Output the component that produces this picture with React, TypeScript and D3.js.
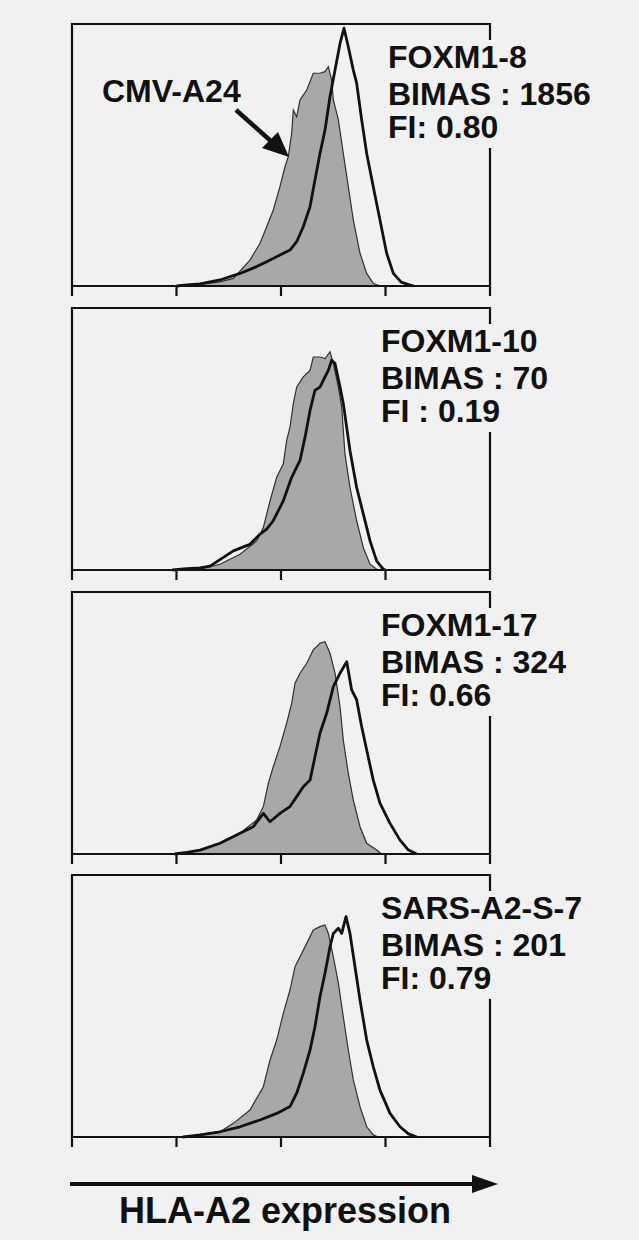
import React from "react";
import * as d3 from "d3";

// x values are log10 fluorescence (decades), y values are % of panel height
const peptides = ["FOXM1-8", "FOXM1-10", "FOXM1-17", "SARS-A2-S-7"];
const bimasLabels = ["BIMAS : 1856", "BIMAS : 70", "BIMAS : 324", "BIMAS : 201"];
const fiLabels = ["FI: 0.80", "FI : 0.19", "FI: 0.66", "FI: 0.79"];
const decadeTicks = [0, 1, 2, 3, 4];
const controlLabel = "CMV-A24";
const axisLabel = "HLA-A2 expression";

type P = [number, number];

// control (CMV-A24) histograms, grey filled
const control1: P[] = [[1.0, 0], [1.1, 0.4], [1.25, 0.7], [1.416, 1.6], [1.544, 2.9], [1.703, 9.9], [1.799, 16.3], [1.863, 22.6], [1.926, 29.0], [1.99, 37.9], [2.038, 45.5], [2.07, 49.4], [2.102, 58.3], [2.118, 67.2], [2.15, 64.6], [2.182, 71.0], [2.246, 74.8], [2.309, 81.2], [2.373, 81.2], [2.421, 81.8], [2.453, 83.7], [2.485, 78.6], [2.501, 71.0], [2.549, 63.4], [2.596, 50.6], [2.644, 37.9], [2.692, 25.2], [2.756, 12.5], [2.82, 4.8], [2.883, 1.0], [2.947, 0]];
const control2: P[] = [[0.96, 0], [1.1, 0.2], [1.225, 0.3], [1.416, 2.2], [1.608, 6.0], [1.767, 11.1], [1.831, 16.2], [1.895, 26.4], [1.959, 35.4], [2.022, 40.5], [2.054, 49.4], [2.086, 54.5], [2.118, 63.5], [2.15, 69.8], [2.213, 73.7], [2.278, 76.2], [2.309, 81.3], [2.373, 81.3], [2.421, 80.7], [2.469, 83.3], [2.501, 78.8], [2.549, 69.8], [2.581, 62.2], [2.612, 44.3], [2.66, 31.5], [2.724, 18.8], [2.788, 8.5], [2.852, 2.2], [2.916, 0.3], [2.95, 0]];
const control3: P[] = [[0.98, 0], [1.1, 0.6], [1.225, 1.5], [1.416, 4.1], [1.608, 7.9], [1.767, 13.0], [1.831, 18.1], [1.879, 27.0], [1.926, 33.3], [1.99, 41.0], [2.054, 49.9], [2.102, 57.5], [2.134, 65.2], [2.182, 69.0], [2.246, 72.8], [2.309, 77.9], [2.373, 80.4], [2.421, 81.0], [2.469, 76.6], [2.517, 69.0], [2.565, 56.2], [2.596, 43.5], [2.644, 30.8], [2.692, 20.6], [2.756, 10.4], [2.82, 4.1], [2.916, 1.5], [2.963, 0]];
const control4: P[] = [[1.06, 0], [1.15, 0.4], [1.225, 0.8], [1.416, 2.0], [1.544, 5.2], [1.703, 10.3], [1.831, 19.2], [1.895, 29.4], [1.959, 37.0], [2.022, 47.2], [2.086, 56.1], [2.134, 65.0], [2.182, 68.8], [2.246, 73.9], [2.309, 79.0], [2.373, 80.3], [2.421, 80.9], [2.453, 77.7], [2.501, 68.8], [2.549, 58.7], [2.596, 45.9], [2.644, 33.2], [2.692, 21.8], [2.756, 11.6], [2.82, 3.9], [2.883, 0.8], [2.931, 0]];

// test peptide histograms, black line
const peptide1: P[] = [[1.0, 0], [1.1, 0.4], [1.225, 0.8], [1.416, 2.3], [1.608, 4.8], [1.767, 7.4], [1.863, 9.3], [1.99, 11.8], [2.086, 13.7], [2.15, 16.9], [2.213, 22.6], [2.278, 30.3], [2.325, 40.5], [2.373, 50.6], [2.421, 59.5], [2.469, 72.3], [2.517, 82.4], [2.565, 92.6], [2.603, 98.4], [2.644, 91.3], [2.692, 82.4], [2.724, 77.4], [2.772, 63.4], [2.82, 50.6], [2.883, 37.9], [2.947, 25.2], [3.011, 12.5], [3.075, 4.8], [3.15, 1.5], [3.22, 0.5], [3.27, 0]];
const peptide2: P[] = [[0.96, 0], [1.1, 0.5], [1.225, 0.8], [1.321, 1.5], [1.544, 7.3], [1.703, 9.8], [1.799, 13.7], [1.863, 15.6], [1.926, 18.8], [2.022, 26.4], [2.102, 35.4], [2.182, 41.8], [2.23, 50.7], [2.278, 60.9], [2.325, 68.6], [2.373, 69.8], [2.421, 73.7], [2.453, 76.2], [2.485, 80.1], [2.517, 78.8], [2.565, 69.8], [2.596, 63.5], [2.66, 45.6], [2.724, 31.5], [2.788, 21.3], [2.852, 11.1], [2.916, 3.4], [2.979, 0.3], [3.0, 0]];
const peptide3: P[] = [[0.98, 0], [1.1, 0.6], [1.225, 1.5], [1.416, 4.1], [1.608, 7.9], [1.735, 10.4], [1.831, 15.5], [1.895, 12.3], [1.99, 15.5], [2.086, 18.1], [2.15, 21.9], [2.213, 25.7], [2.278, 28.2], [2.325, 37.1], [2.373, 46.1], [2.437, 53.7], [2.501, 63.9], [2.565, 69.0], [2.629, 73.4], [2.676, 62.6], [2.724, 58.8], [2.772, 48.6], [2.82, 39.7], [2.883, 28.2], [2.947, 19.4], [3.043, 11.7], [3.139, 5.3], [3.22, 1.5], [3.3, 0]];
const peptide4: P[] = [[1.06, 0], [1.15, 0.4], [1.225, 0.8], [1.416, 2.0], [1.608, 3.9], [1.799, 6.5], [1.959, 9.0], [2.086, 11.6], [2.15, 16.7], [2.213, 24.3], [2.278, 33.2], [2.325, 42.1], [2.373, 53.5], [2.421, 62.5], [2.469, 72.6], [2.501, 77.7], [2.549, 79.7], [2.581, 77.7], [2.622, 84.1], [2.66, 77.7], [2.708, 65.0], [2.756, 52.3], [2.82, 37.0], [2.883, 26.8], [2.947, 17.9], [3.043, 9.0], [3.139, 3.9], [3.22, 1.2], [3.3, 0]];

const controls = [control1, control2, control3, control4];
const peptideSeries = [peptide1, peptide2, peptide3, peptide4];

const W = 639;
const H = 1240;
const BG = "#f1f1f1";
const INK = "#111111";
const FONT = "'Liberation Sans', Arial, Helvetica, sans-serif";

const left = 72;
const right = 490;
const panelH = 262;
const panelTops = [24, 308, 592, 875];

export default function App() {
  const x = d3.scaleLinear().domain([0, 4]).range([left, right]);

  return (
    <svg
      width={W}
      height={H}
      viewBox={`0 0 ${W} ${H}`}
      style={{ position: "absolute", left: 0, top: 0, display: "block" }}
    >
      <rect x={0} y={0} width={W} height={H} fill={BG} />
      {panelTops.map((top, i) => {
        const y = d3.scaleLinear().domain([0, 100]).range([top + panelH, top]);
        const area = d3
          .area<P>()
          .x((d) => x(d[0]))
          .y0(y(0))
          .y1((d) => y(d[1]))
          .curve(d3.curveLinear);
        const line = d3
          .line<P>()
          .x((d) => x(d[0]))
          .y((d) => y(d[1]))
          .curve(d3.curveLinear);
        const bottom = top + panelH;
        const tx = i === 0 ? 388 : 381;
        return (
          <g key={i}>
            <path d={area(controls[i]) || ""} fill="#a8a8a8" stroke="none" />
            <path d={line(controls[i]) || ""} fill="none" stroke="#303030" strokeWidth={1.2} />
            <path d={line(peptideSeries[i]) || ""} fill="none" stroke={INK} strokeWidth={2.8} strokeLinejoin="round" />
            {/* frame */}
            <path
              d={`M${left},${bottom} L${left},${top} L${right},${top} L${right},${top + 16} M${right},${top + 124} L${right},${bottom} L${left},${bottom}`}
              fill="none"
              stroke={INK}
              strokeWidth={2.2}
            />
            {decadeTicks.map((t) => (
              <line key={t} x1={x(t)} x2={x(t)} y1={bottom} y2={bottom + 10} stroke={INK} strokeWidth={2.2} />
            ))}
            <g fontFamily={FONT} fontWeight="bold" fontSize={32} fill={INK}>
              <text x={tx} y={top + 44}>{peptides[i]}</text>
              <text x={tx} y={top + 81}>{bimasLabels[i]}</text>
              <text x={tx} y={top + 114}>{fiLabels[i]}</text>
            </g>
          </g>
        );
      })}
      {/* CMV-A24 annotation */}
      <text x={102} y={102} fontFamily={FONT} fontWeight="bold" fontSize={32} fill={INK}>
        {controlLabel}
      </text>
      <line x1={236} y1={110} x2={272} y2={142} stroke={INK} strokeWidth={4.5} />
      <path d="M289,157 L262,148 L278,132 Z" fill={INK} />
      {/* axis arrow */}
      <line x1={70} y1={1184} x2={476} y2={1184} stroke={INK} strokeWidth={3.8} />
      <path d="M498,1184 L472,1175 L472,1193 Z" fill={INK} />
      <text
        x={285}
        y={1223}
        textAnchor="middle"
        fontFamily={FONT}
        fontWeight="bold"
        fontSize={36}
        fill={INK}
      >
        {axisLabel}
      </text>
    </svg>
  );
}
